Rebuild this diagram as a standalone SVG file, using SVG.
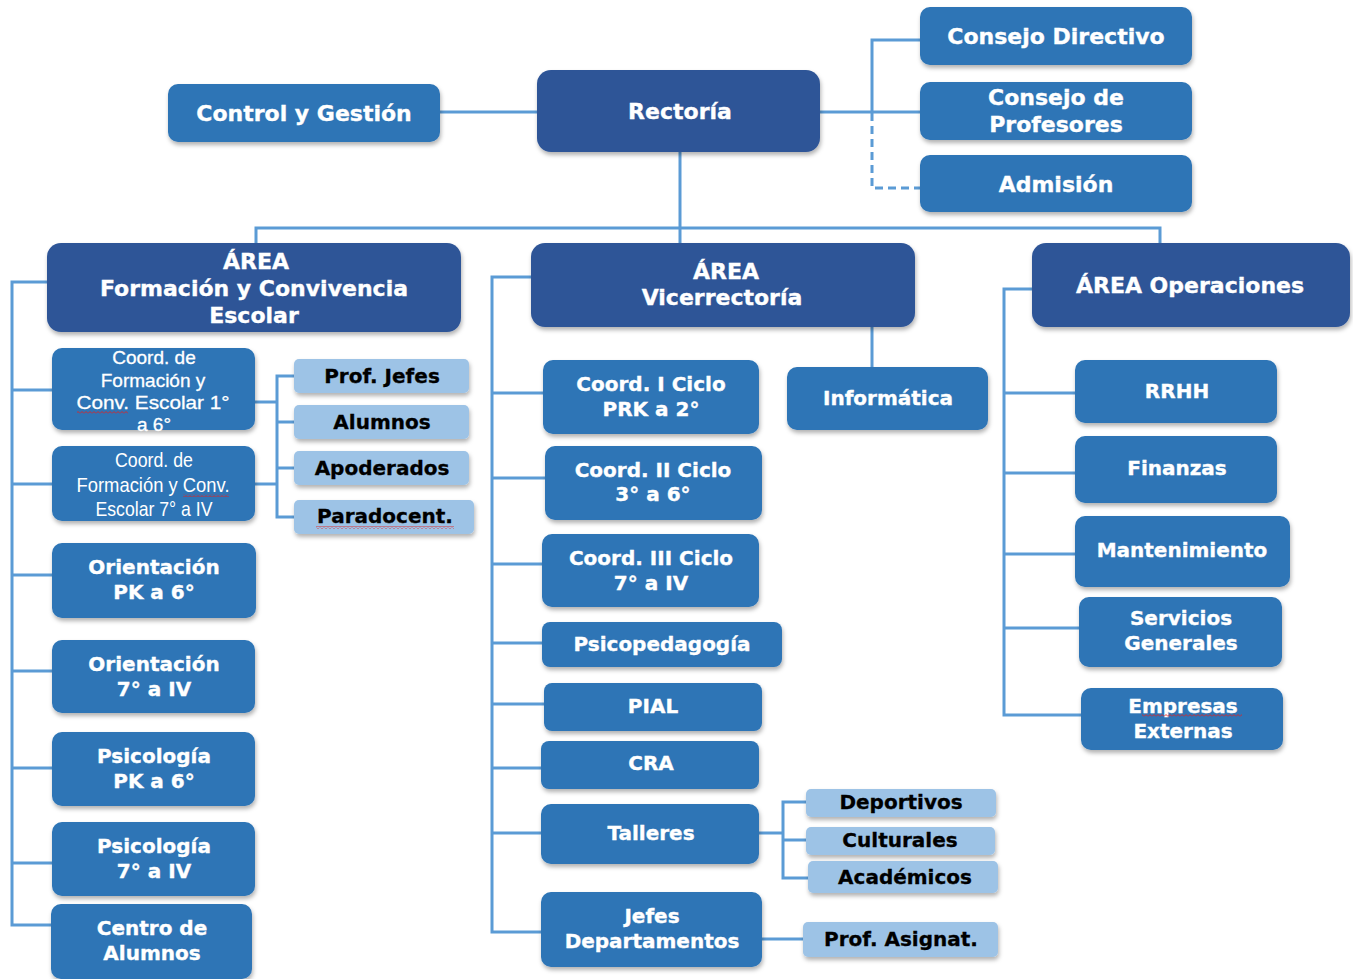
<svg xmlns="http://www.w3.org/2000/svg" width="1353" height="979" viewBox="0 0 1353 979">
<style>
.dk{fill:#2F5597}
.md{fill:#2E75B6}
.lt{fill:#9DC3E6}
.t{font-family:"DejaVu Sans","Liberation Sans",Arial,sans-serif;font-weight:bold;text-anchor:middle;fill:#fff;stroke:#fff;stroke-width:0.35px}
.t22{font-size:22px}
.t20{font-size:20px}
.tb{font-family:"DejaVu Sans","Liberation Sans",Arial,sans-serif;font-weight:bold;font-size:20px;text-anchor:middle;fill:#000;stroke:#000;stroke-width:0.3px}
.tr{font-family:"Liberation Sans",Arial,sans-serif;font-size:19px;text-anchor:middle;fill:#fff;stroke:#fff;stroke-width:0.3px}
.tn{font-family:"Liberation Sans Narrow","Liberation Sans",Arial,sans-serif;font-size:21px;text-anchor:middle;fill:#fff}
.c{fill:none;stroke:#5B9BD5;stroke-width:3}
.d{fill:none;stroke:#5B9BD5;stroke-width:3;stroke-dasharray:8 5}
</style>
<defs>
<filter id="sh" x="-10%" y="-10%" width="125%" height="135%">
<feDropShadow dx="1" dy="3" stdDeviation="2" flood-color="#000" flood-opacity="0.3"/>
</filter>
<pattern id="sq" x="0" y="0" width="4" height="3" patternUnits="userSpaceOnUse">
<polyline points="0,2.5 2,0.5 4,2.5" fill="none" stroke="#E02020" stroke-width="0.9"/>
</pattern>
</defs>

<g id="connectors">
<path class="c" d="M440 112H537"/>
<path class="c" d="M820 112H920"/>
<path class="c" d="M920 40H872V113"/>
<path class="d" d="M872 113V188H920"/>
<path class="c" d="M680 152V243"/>
<path class="c" d="M256 243V228H1160V243"/>
<path class="c" d="M47 282H12V925H51"/>
<path class="c" d="M12 390H52M12 484H52M12 575H52M12 671H52M12 768H52M12 863H52"/>
<path class="c" d="M255 402H277M255 484H277"/>
<path class="c" d="M294 376H277V517H294M277 422H294M277 468H294"/>
<path class="c" d="M531 277H492V932H541"/>
<path class="c" d="M492 393H543M492 478H545M492 564H542M492 643H542M492 704H544M492 768H541M492 833H541"/>
<path class="c" d="M872 327V367"/>
<path class="c" d="M759 833H783M806 802H783V878H808M783 840H806"/>
<path class="c" d="M762 939H803"/>
<path class="c" d="M1032 289H1004V715H1081"/>
<path class="c" d="M1004 393H1075M1004 473H1075M1004 554H1075M1004 628H1079"/>
</g>

<g id="control">
<rect class="md" x="168" y="84" width="272" height="58" rx="10" filter="url(#sh)"/>
<text class="t t22" x="304" y="121">Control y Gestión</text>
</g>
<g id="rectoria">
<rect class="dk" x="537" y="70" width="283" height="82" rx="14" filter="url(#sh)"/>
<text class="t t22" x="680" y="119">Rectoría</text>
</g>
<g id="consejo-directivo">
<rect class="md" x="920" y="7" width="272" height="58" rx="10" filter="url(#sh)"/>
<text class="t t22" x="1056" y="44">Consejo Directivo</text>
</g>
<g id="consejo-profesores">
<rect class="md" x="920" y="82" width="272" height="58" rx="10" filter="url(#sh)"/>
<text class="t t22" x="1056" y="105">Consejo de</text>
<text class="t t22" x="1056" y="132">Profesores</text>
</g>
<g id="admision">
<rect class="md" x="920" y="155" width="272" height="57" rx="10" filter="url(#sh)"/>
<text class="t t22" x="1056" y="192">Admisión</text>
</g>

<g id="area-formacion">
<rect class="dk" x="47" y="243" width="414" height="89" rx="14" filter="url(#sh)"/>
<text class="t t22" x="256" y="269">ÁREA</text>
<text class="t t22" x="254" y="296">Formación y Convivencia</text>
<text class="t t22" x="254" y="323">Escolar</text>
</g>
<g id="area-vicerrectoria">
<rect class="dk" x="531" y="243" width="384" height="84" rx="14" filter="url(#sh)"/>
<text class="t t22" x="726" y="279">ÁREA</text>
<text class="t t22" x="722" y="305">Vicerrectoría</text>
</g>
<g id="area-operaciones">
<rect class="dk" x="1032" y="243" width="318" height="84" rx="14" filter="url(#sh)"/>
<text class="t t22" x="1190" y="293">ÁREA Operaciones</text>
</g>

<g id="coord-form-1">
<rect class="md" x="52" y="348" width="203" height="82" rx="10" filter="url(#sh)"/>
<text class="tr" x="154" y="364">Coord. de</text>
<text class="tr" x="153" y="387">Formación y</text>
<text class="tr" x="153" y="409" textLength="153" lengthAdjust="spacingAndGlyphs">Conv. Escolar  1°</text>
<text class="tr" x="154" y="431">a 6°</text>
<rect x="77" y="411" width="51" height="3" fill="url(#sq)"/>
</g>
<g id="coord-form-2">
<rect class="md" x="52" y="446" width="203" height="75" rx="10" filter="url(#sh)"/>
<text class="tn" x="154" y="467" textLength="78" lengthAdjust="spacingAndGlyphs">Coord. de</text>
<text class="tn" x="153" y="492" textLength="153" lengthAdjust="spacingAndGlyphs">Formación y Conv.</text>
<text class="tn" x="154" y="516" textLength="117" lengthAdjust="spacingAndGlyphs">Escolar 7° a IV</text>
<rect x="183" y="494" width="46" height="3" fill="url(#sq)"/>
</g>
<g id="prof-jefes">
<rect class="lt" x="294" y="359" width="175" height="34" rx="5" filter="url(#sh)"/>
<text class="tb" x="382" y="383">Prof. Jefes</text>
</g>
<g id="alumnos">
<rect class="lt" x="294" y="405" width="175" height="34" rx="5" filter="url(#sh)"/>
<text class="tb" x="382" y="429">Alumnos</text>
</g>
<g id="apoderados">
<rect class="lt" x="294" y="451" width="175" height="34" rx="5" filter="url(#sh)"/>
<text class="tb" x="382" y="475">Apoderados</text>
</g>
<g id="paradocent">
<rect class="lt" x="294" y="500" width="180" height="34" rx="5" filter="url(#sh)"/>
<text class="tb" x="385" y="523">Paradocent.</text>
<rect x="316" y="526" width="138" height="3" fill="url(#sq)"/>
</g>
<g id="orientacion-pk">
<rect class="md" x="52" y="543" width="204" height="75" rx="10" filter="url(#sh)"/>
<text class="t t20" x="154" y="574">Orientación</text>
<text class="t t20" x="154" y="599">PK a 6°</text>
</g>
<g id="orientacion-7">
<rect class="md" x="52" y="640" width="203" height="73" rx="10" filter="url(#sh)"/>
<text class="t t20" x="154" y="671">Orientación</text>
<text class="t t20" x="154" y="696">7° a IV</text>
</g>
<g id="psicologia-pk">
<rect class="md" x="52" y="732" width="203" height="74" rx="10" filter="url(#sh)"/>
<text class="t t20" x="154" y="763">Psicología</text>
<text class="t t20" x="154" y="788">PK a 6°</text>
</g>
<g id="psicologia-7">
<rect class="md" x="52" y="822" width="203" height="74" rx="10" filter="url(#sh)"/>
<text class="t t20" x="154" y="853">Psicología</text>
<text class="t t20" x="154" y="878">7° a IV</text>
</g>
<g id="centro-alumnos">
<rect class="md" x="51" y="904" width="201" height="75" rx="10" filter="url(#sh)"/>
<text class="t t20" x="152" y="935">Centro de</text>
<text class="t t20" x="152" y="960">Alumnos</text>
</g>

<g id="coord-1">
<rect class="md" x="543" y="360" width="216" height="74" rx="10" filter="url(#sh)"/>
<text class="t t20" x="651" y="391">Coord. I Ciclo</text>
<text class="t t20" x="651" y="416">PRK a 2°</text>
</g>
<g id="coord-2">
<rect class="md" x="545" y="446" width="217" height="74" rx="10" filter="url(#sh)"/>
<text class="t t20" x="653" y="477">Coord. II Ciclo</text>
<text class="t t20" x="653" y="501">3° a 6°</text>
</g>
<g id="coord-3">
<rect class="md" x="542" y="534" width="217" height="73" rx="10" filter="url(#sh)"/>
<text class="t t20" x="651" y="565">Coord. III Ciclo</text>
<text class="t t20" x="651" y="590">7° a IV</text>
</g>
<g id="psicopedagogia">
<rect class="md" x="542" y="622" width="240" height="45" rx="8" filter="url(#sh)"/>
<text class="t t20" x="662" y="651">Psicopedagogía</text>
</g>
<g id="pial">
<rect class="md" x="544" y="683" width="218" height="48" rx="8" filter="url(#sh)"/>
<text class="t t20" x="653" y="713">PIAL</text>
</g>
<g id="cra">
<rect class="md" x="541" y="741" width="218" height="48" rx="8" filter="url(#sh)"/>
<text class="t t20" x="651" y="770">CRA</text>
</g>
<g id="talleres">
<rect class="md" x="541" y="804" width="218" height="60" rx="10" filter="url(#sh)"/>
<text class="t t20" x="651" y="840">Talleres</text>
</g>
<g id="jefes-departamentos">
<rect class="md" x="541" y="892" width="221" height="75" rx="10" filter="url(#sh)"/>
<text class="t t20" x="652" y="923">Jefes</text>
<text class="t t20" x="652" y="948">Departamentos</text>
</g>
<g id="informatica">
<rect class="md" x="787" y="367" width="201" height="63" rx="10" filter="url(#sh)"/>
<text class="t t20" x="888" y="405">Informática</text>
</g>
<g id="deportivos">
<rect class="lt" x="806" y="789" width="190" height="28" rx="5" filter="url(#sh)"/>
<text class="tb" x="901" y="809">Deportivos</text>
</g>
<g id="culturales">
<rect class="lt" x="806" y="827" width="189" height="28" rx="5" filter="url(#sh)"/>
<text class="tb" x="900" y="847">Culturales</text>
</g>
<g id="academicos">
<rect class="lt" x="808" y="861" width="190" height="32" rx="5" filter="url(#sh)"/>
<text class="tb" x="905" y="884">Académicos</text>
</g>
<g id="prof-asignat">
<rect class="lt" x="803" y="922" width="195" height="35" rx="5" filter="url(#sh)"/>
<text class="tb" x="901" y="946">Prof. Asignat.</text>
</g>

<g id="rrhh">
<rect class="md" x="1075" y="360" width="202" height="63" rx="10" filter="url(#sh)"/>
<text class="t t20" x="1177" y="398">RRHH</text>
</g>
<g id="finanzas">
<rect class="md" x="1075" y="436" width="202" height="67" rx="10" filter="url(#sh)"/>
<text class="t t20" x="1177" y="475">Finanzas</text>
</g>
<g id="mantenimiento">
<rect class="md" x="1075" y="516" width="215" height="71" rx="10" filter="url(#sh)"/>
<text class="t t20" x="1182" y="557">Mantenimiento</text>
</g>
<g id="servicios-generales">
<rect class="md" x="1079" y="597" width="203" height="70" rx="10" filter="url(#sh)"/>
<text class="t t20" x="1181" y="625">Servicios</text>
<text class="t t20" x="1181" y="650">Generales</text>
</g>
<g id="empresas-externas">
<rect class="md" x="1081" y="688" width="202" height="62" rx="10" filter="url(#sh)"/>
<text class="t t20" x="1183" y="713">Empresas</text>
<text class="t t20" x="1183" y="738">Externas</text>
<rect x="1142" y="714" width="100" height="3" fill="url(#sq)"/>
</g>
</svg>
